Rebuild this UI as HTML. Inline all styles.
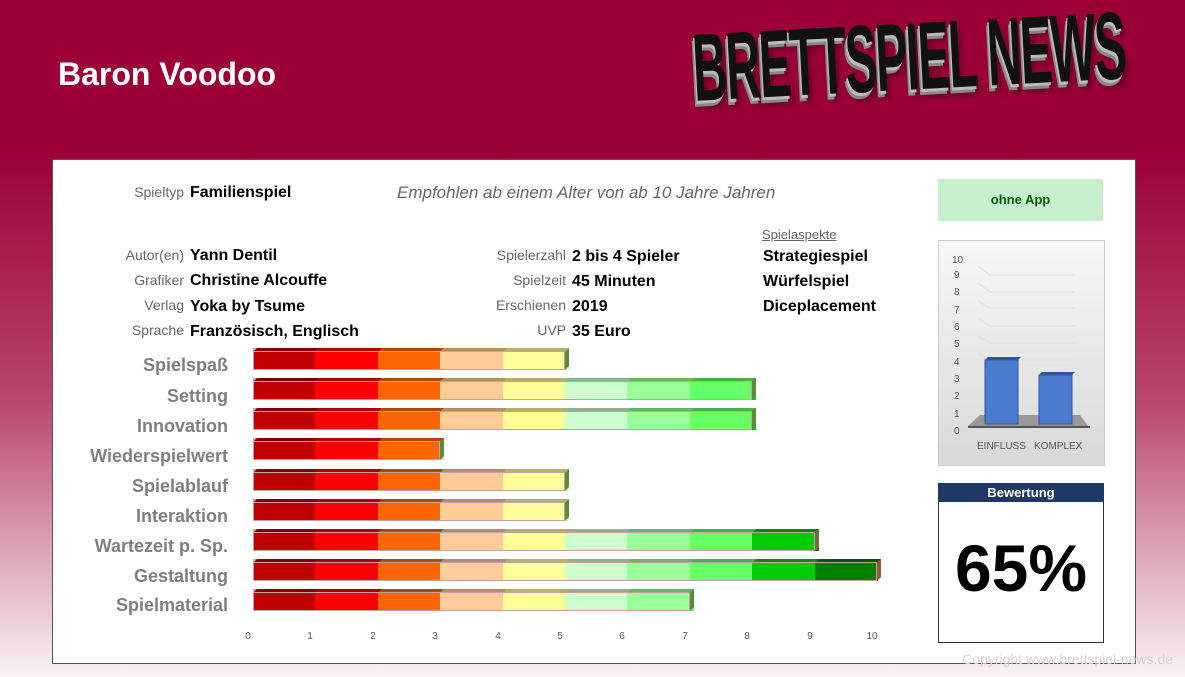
<!DOCTYPE html>
<html><head><meta charset="utf-8"><style>
body{margin:0;width:1185px;height:677px;overflow:hidden;font-family:"Liberation Sans",sans-serif;
background:linear-gradient(to bottom,#9b0036 0px,#9b0036 150px,#b8466c 400px,#e8c3cf 600px,#fbf3f5 677px);position:relative}
.a{position:absolute;white-space:nowrap}
.l{font-size:14px;color:#666;text-align:right;width:120px}
.v{font-size:16px;font-weight:bold;color:#000}
.c{font-size:18px;font-weight:bold;color:#7f7f7f;text-align:right;width:170px}
</style></head><body>
<div class="a" style="left:58px;top:56px;color:#fff;font-size:32px;font-weight:bold">Baron Voodoo</div>
<div class="a" style="left:690px;top:14px;font-size:96px;font-weight:bold;color:#111;letter-spacing:-3px;transform:rotate(-3deg) scaleX(0.5);transform-origin:left top;text-shadow:-3px 3px 0 #bbb,-6px 6px 0 #888,3px 8px 10px rgba(0,0,0,.4);font-family:'Liberation Sans Narrow','Liberation Sans',sans-serif">BRETTSPIEL NEWS</div>
<div class="a" style="left:52px;top:159px;width:1082px;height:503px;background:#fff;border:1px solid #555"></div>

<div class="a l" style="left:64px;top:184px">Spieltyp</div><div class="a v" style="left:190px;top:184px">Familienspiel</div>
<div class="a" style="left:397px;top:183px;font-size:17px;font-style:italic;color:#666">Empfohlen ab einem Alter von ab 10 Jahre Jahren</div>
<div class="a l" style="left:64px;top:247px">Autor(en)</div><div class="a v" style="left:190px;top:247px">Yann Dentil</div>
<div class="a l" style="left:64px;top:272px">Grafiker</div><div class="a v" style="left:190px;top:272px">Christine Alcouffe</div>
<div class="a l" style="left:64px;top:297px">Verlag</div><div class="a v" style="left:190px;top:298px">Yoka by Tsume</div>
<div class="a l" style="left:64px;top:322px">Sprache</div><div class="a v" style="left:190px;top:323px">Französisch, Englisch</div>
<div class="a l" style="left:446px;top:247px">Spielerzahl</div><div class="a v" style="left:572px;top:248px">2 bis 4 Spieler</div>
<div class="a l" style="left:446px;top:272px">Spielzeit</div><div class="a v" style="left:572px;top:273px">45 Minuten</div>
<div class="a l" style="left:446px;top:297px">Erschienen</div><div class="a v" style="left:572px;top:298px">2019</div>
<div class="a l" style="left:446px;top:322px">UVP</div><div class="a v" style="left:572px;top:323px">35 Euro</div>
<div class="a" style="left:762px;top:227px;font-size:13px;color:#666;text-decoration:underline">Spielaspekte</div>
<div class="a v" style="left:763px;top:248px">Strategiespiel</div>
<div class="a v" style="left:763px;top:273px">Würfelspiel</div>
<div class="a v" style="left:763px;top:298px">Diceplacement</div>

<div class="a" style="left:938px;top:179px;width:165px;height:42px;background:#c6efce;color:#006100;font-size:13px;font-weight:bold;text-align:center;line-height:42px">ohne App</div>

<div class="a" style="left:938px;top:240px;width:165px;height:224px;background:linear-gradient(#f8f8f8,#d8d8d8);border:1px solid #ccc"></div>
<svg class="a" style="left:938px;top:240px" width="166" height="225">
<g font-family="Liberation Sans" font-size="10" fill="#555">
<text x="14" y="23">10</text><text x="16" y="38">9</text><text x="16" y="55">8</text><text x="16" y="73">7</text><text x="16" y="90">6</text><text x="16" y="107">5</text><text x="16" y="125">4</text><text x="16" y="142">3</text><text x="16" y="159">2</text><text x="16" y="177">1</text><text x="16" y="194">0</text>
<text x="39" y="209">EINFLUSS</text><text x="96" y="209">KOMPLEX</text></g>
<g stroke="#e0e0e0" fill="none"><path d="M40 26 L52 35 H137"/><path d="M40 43 L52 52 H137"/><path d="M40 61 L52 68 H137"/><path d="M40 78 L52 86 H137"/><path d="M40 96 L52 103 H137"/><path d="M40 113 L52 120 H137"/></g>
<polygon points="30,186 150,186 142,175 42,175" fill="#999"/>
<line x1="30" y1="187" x2="152" y2="187" stroke="#555" stroke-width="2"/>
<rect x="47" y="120" width="33" height="64" fill="#4a7bd0" stroke="#2f5597"/>
<polygon points="47,120 50,117 83,117 80,120" fill="#2f5597"/>
<rect x="101" y="135" width="33" height="49" fill="#4a7bd0" stroke="#2f5597"/>
<polygon points="101,135 104,132 137,132 134,135" fill="#2f5597"/>
</svg>

<div class="a" style="left:938px;top:483px;width:164px;height:158px;border:1px solid #333;background:#fff"></div>
<div class="a" style="left:938px;top:483px;width:166px;height:19px;background:#1f3864;color:#fff;font-size:13px;font-weight:bold;text-align:center;line-height:19px">Bewertung</div>
<div class="a" style="left:938px;top:530px;width:166px;text-align:center;font-size:66px;font-weight:bold;color:#000">65%</div>

<div class="a c" style="left:58px;top:355px">Spielspaß</div>
<div class="a c" style="left:58px;top:386px">Setting</div>
<div class="a c" style="left:58px;top:416px">Innovation</div>
<div class="a c" style="left:58px;top:446px">Wiederspielwert</div>
<div class="a c" style="left:58px;top:476px">Spielablauf</div>
<div class="a c" style="left:58px;top:506px">Interaktion</div>
<div class="a c" style="left:58px;top:536px">Wartezeit p. Sp.</div>
<div class="a c" style="left:58px;top:566px">Gestaltung</div>
<div class="a c" style="left:58px;top:595px">Spielmaterial</div>

<svg class="a" style="left:0;top:0" width="1185" height="677">
<defs>
<g id="fb">
<g stroke="none">
<polygon points="0,4 4,0 66,0 62,4" fill="#c00000"/><rect x="0" y="3" width="63" height="19" fill="#c00000"/>
<polygon points="62,4 66,0 129,0 125,4" fill="#ff0000"/><rect x="62" y="3" width="63" height="19" fill="#ff0000"/>
<polygon points="125,4 129,0 191,0 187,4" fill="#ff6600"/><rect x="125" y="3" width="63" height="19" fill="#ff6600"/>
<polygon points="187,4 191,0 254,0 250,4" fill="#ffcc99"/><rect x="187" y="3" width="63" height="19" fill="#ffcc99"/>
<polygon points="250,4 254,0 316,0 312,4" fill="#ffff99"/><rect x="250" y="3" width="63" height="19" fill="#ffff99"/>
<polygon points="312,4 316,0 378,0 374,4" fill="#ccffcc"/><rect x="312" y="3" width="63" height="19" fill="#ccffcc"/>
<polygon points="374,4 378,0 441,0 437,4" fill="#99ff99"/><rect x="374" y="3" width="63" height="19" fill="#99ff99"/>
<polygon points="437,4 441,0 503,0 499,4" fill="#66ff66"/><rect x="437" y="3" width="63" height="19" fill="#66ff66"/>
<polygon points="499,4 503,0 566,0 562,4" fill="#00cc00"/><rect x="499" y="3" width="63" height="19" fill="#00cc00"/>
<polygon points="562,4 566,0 628,0 624,4" fill="#008000"/><rect x="562" y="3" width="63" height="19" fill="#008000"/>
<rect x="0" y="0" width="630" height="4" fill="#000" opacity=".3"/>
</g></g>
</defs>
<g>
<svg x="253" y="348" width="316" height="24"><use href="#fb"/><rect x="0.5" y="3.5" width="311" height="18" fill="none" stroke="#c9a0a0"/><polygon points="312,4 316,0 316,18 312,22" fill="#5a8a3a"/></svg>
<svg x="253" y="378" width="503" height="24"><use href="#fb"/><rect x="0.5" y="3.5" width="498" height="18" fill="none" stroke="#c9a0a0"/><polygon points="499,4 503,0 503,18 499,22" fill="#5a8a3a"/></svg>
<svg x="253" y="408" width="503" height="24"><use href="#fb"/><rect x="0.5" y="3.5" width="498" height="18" fill="none" stroke="#c9a0a0"/><polygon points="499,4 503,0 503,18 499,22" fill="#5a8a3a"/></svg>
<svg x="253" y="438" width="191" height="24"><use href="#fb"/><rect x="0.5" y="3.5" width="186" height="18" fill="none" stroke="#c9a0a0"/><polygon points="187,4 191,0 191,18 187,22" fill="#5a8a3a"/></svg>
<svg x="253" y="469" width="316" height="24"><use href="#fb"/><rect x="0.5" y="3.5" width="311" height="18" fill="none" stroke="#c9a0a0"/><polygon points="312,4 316,0 316,18 312,22" fill="#5a8a3a"/></svg>
<svg x="253" y="499" width="316" height="24"><use href="#fb"/><rect x="0.5" y="3.5" width="311" height="18" fill="none" stroke="#c9a0a0"/><polygon points="312,4 316,0 316,18 312,22" fill="#5a8a3a"/></svg>
<svg x="253" y="529" width="566" height="24"><use href="#fb"/><rect x="0.5" y="3.5" width="561" height="18" fill="none" stroke="#c9a0a0"/><polygon points="562,4 566,0 566,18 562,22" fill="#7a6a3a"/></svg>
<svg x="253" y="559" width="628" height="24"><use href="#fb"/><rect x="0.5" y="3.5" width="623" height="18" fill="none" stroke="#c9a0a0"/><polygon points="624,4 628,0 628,18 624,22" fill="#8a5a3a"/></svg>
<svg x="253" y="589" width="441" height="24"><use href="#fb"/><rect x="0.5" y="3.5" width="436" height="18" fill="none" stroke="#c9a0a0"/><polygon points="437,4 441,0 441,18 437,22" fill="#5a8a3a"/></svg>
</g>
<g font-family="Liberation Sans" font-size="10" fill="#555" text-anchor="middle">
<text x="248" y="639">0</text><text x="310" y="639">1</text><text x="373" y="639">2</text><text x="435" y="639">3</text><text x="498" y="639">4</text><text x="560" y="639">5</text><text x="622" y="639">6</text><text x="685" y="639">7</text><text x="747" y="639">8</text><text x="810" y="639">9</text><text x="872" y="639">10</text>
</g>
<text x="1173" y="664" text-anchor="end" font-family="Liberation Sans" font-size="14" fill="#e0d0d5">Copyright www.brettspiel-news.de</text>
</svg>
</body></html>
